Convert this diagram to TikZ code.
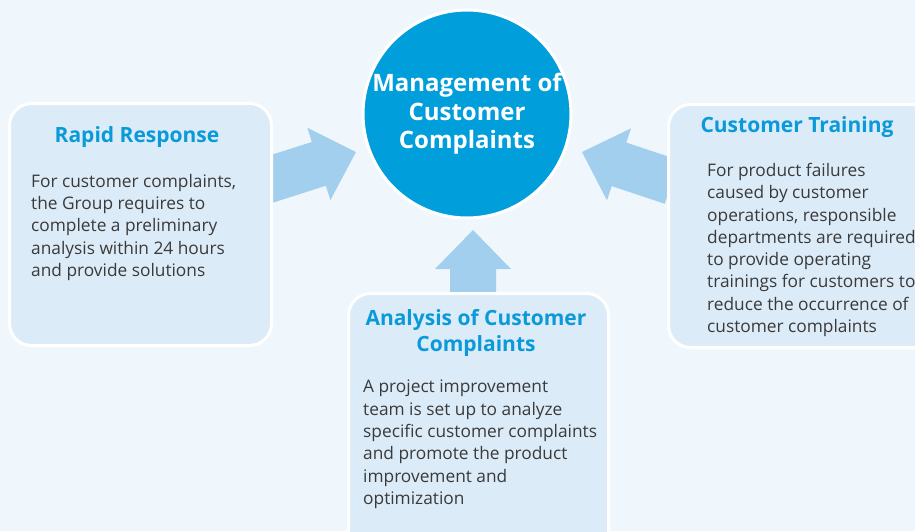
\documentclass[tikz,border=0pt]{standalone}
\usepackage{fontspec}
\setmainfont{Open Sans}
\usetikzlibrary{calc}
\definecolor{bgcol}{HTML}{F0F7FC}
\definecolor{boxcol}{HTML}{DCEBF8}
\definecolor{hubcol}{HTML}{009EDB}
\definecolor{arrowcol}{HTML}{A3CFEF}
\definecolor{titlecol}{HTML}{0A9ADA}
\definecolor{bodycol}{HTML}{3A3A3A}
\tikzset{
  panel/.style={draw=white, line width=3pt, fill=boxcol, rounded corners=22pt, inner sep=0pt},
  hub/.style={circle, draw=white, line width=3pt, fill=hubcol, minimum size=208pt, inner sep=0pt,
    text=white, align=center, font=\bfseries\fontsize{24}{28.5}\selectfont},
  paneltitle/.style={text=titlecol, align=center, inner sep=0pt, font=\bfseries\fontsize{21}{26.5}\selectfont},
  panelbody/.style={text=bodycol, align=left, inner sep=0pt, anchor=north west, font=\fontsize{17.3}{22.3}\selectfont},
}
% block arrow from #1 (shaft base) to #2 (tip)
\newcommand\blockarrow[2]{%
  \fill[arrowcol]
    ($(#1)!23pt!90:(#2)$) --
    ($($(#2)!39pt!(#1)$)!23pt!-90:(#1)$) --
    ($($(#2)!39pt!(#1)$)!38pt!-90:(#1)$) --
    (#2) --
    ($($(#2)!39pt!(#1)$)!38pt!90:(#1)$) --
    ($($(#2)!39pt!(#1)$)!23pt!90:(#1)$) --
    ($(#1)!23pt!-90:(#2)$) -- cycle;}
\begin{document}
\begin{tikzpicture}[x=1pt, y=-1pt]
\useasboundingbox (0,0) rectangle (915,531);
\clip (0,0) rectangle (915,531);
\fill[bgcol] (0,0) rectangle (915,531);

% connectors into the hub
\coordinate (lbase) at (262,182);
\coordinate (ltip) at (356,152);
\coordinate (rbase) at (672,182);
\coordinate (rtip) at (582,152);
\coordinate (bbase) at (473,298);
\coordinate (btip) at (473,230);
\blockarrow{lbase}{ltip}
\blockarrow{rbase}{rtip}
\blockarrow{bbase}{btip}

% hub
\node[hub] (hub) at (467,114) {Management of\\Customer\\Complaints};

% panels
\node[panel, minimum width=262pt, minimum height=242pt, anchor=north west] (rapid) at (8,102) {};
\node[panel, minimum width=270pt, minimum height=243pt, anchor=north west] (train) at (667,103) {};
\node[panel, minimum width=260pt, minimum height=260pt, anchor=north west] (anal) at (347,292) {};

\node[paneltitle] (rapidT) at (137,137) {Rapid Response};
\node[panelbody] (rapidB) at (31,174) {For customer complaints,\\the Group requires to\\complete a preliminary\\analysis within 24 hours\\and provide solutions};

\node[paneltitle] (trainT) at (797,127) {Customer Training};
\node[panelbody] (trainB) at (707,163) {For product failures\\caused by customer\\operations, responsible\\departments are required\\to provide operating\\trainings for customers to\\reduce the occurrence of\\customer complaints};

\node[paneltitle] (analT) at (476,333) {Analysis of Customer\\Complaints};
\node[panelbody] (analB) at (363,380) {A project improvement\\team is set up to analyze\\specific customer complaints\\and promote the product\\improvement and\\optimization};
\end{tikzpicture}
\end{document}
